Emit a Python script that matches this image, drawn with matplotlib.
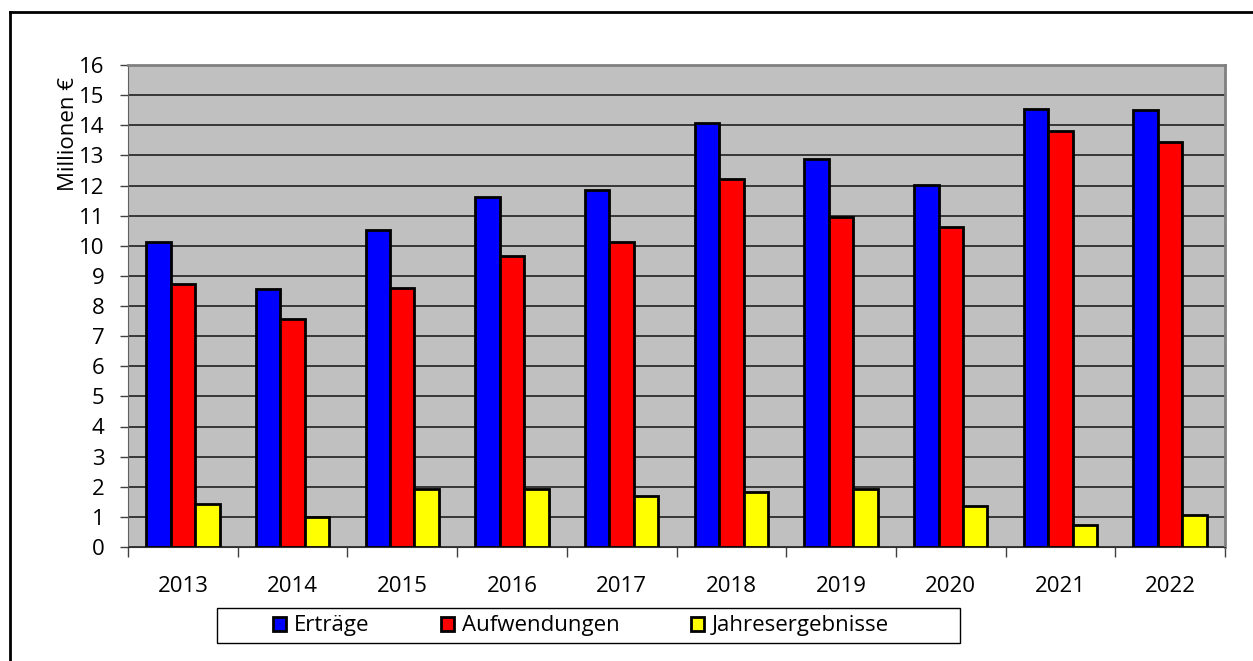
import numpy as np
import matplotlib.pyplot as plt
from matplotlib.patches import Rectangle
from matplotlib.lines import Line2D

plt.rcParams["font.family"] = ["Open Sans", "DejaVu Sans"]
plt.rcParams["font.size"] = 16

years = ["2013", "2014", "2015", "2016", "2017", "2018", "2019", "2020", "2021", "2022"]
ertraege = [10.11, 8.56, 10.53, 11.63, 11.84, 14.06, 12.89, 12.03, 14.55, 14.51]
aufwendungen = [8.72, 7.57, 8.61, 9.67, 10.12, 12.23, 10.97, 10.63, 13.81, 13.45]
jahresergebnisse = [1.43, 1.00, 1.93, 1.93, 1.68, 1.82, 1.93, 1.36, 0.73, 1.05]

series = [
    ("Erträge", ertraege, "#0000FF"),
    ("Aufwendungen", aufwendungen, "#FF0000"),
    ("Jahresergebnisse", jahresergebnisse, "#FFFF00"),
]

W, H = 1253, 661
fig = plt.figure(figsize=(W / 100, H / 100), dpi=100)
ax = fig.add_axes([128 / W, 1 - 547 / H, (1225 - 128) / W, (547 - 65) / H])
ax.set_facecolor("#C0C0C0")

x = np.arange(len(years))
width = 0.223
for k, (name, vals, color) in enumerate(series):
    ax.bar(x + (k - 1) * width, vals, width=width, color=color,
           edgecolor="black", linewidth=2, label=name, zorder=3)

ax.set_xlim(-0.5, len(years) - 0.5)
ax.set_ylim(0, 16)
ax.set_yticks(range(0, 17))
ax.yaxis.grid(True, color="#202020", linewidth=1.2, zorder=1)
ax.set_axisbelow(True)

# ticks at category boundaries, labels centered between them
ax.set_xticks(np.arange(-0.5, len(years), 1.0))
ax.set_xticklabels([])
ax.set_xticks(x, minor=True)
ax.set_xticklabels(years, minor=True)
ax.tick_params(axis="x", which="major", length=7, width=1, color="#404040")
ax.tick_params(axis="x", which="minor", length=0, pad=21)
ax.tick_params(axis="y", length=6, width=1, color="#404040", pad=11)

for side in ["top", "right"]:
    ax.spines[side].set_color("#808080")
    ax.spines[side].set_linewidth(2)
ax.spines["left"].set_color("#606060")
ax.spines["bottom"].set_color("#303030")

ax.set_ylabel("Millionen €", loc="top")
ax.yaxis.set_label_coords(-0.045, 0.975)

handles, labels = ax.get_legend_handles_labels()
fig.legend(handles, labels, loc="center", ncol=3, frameon=False,
           bbox_to_anchor=(581 / W, 1 - 626 / H),
           handlelength=0.6, handleheight=0.6, handletextpad=0.35,
           columnspacing=3.2)
fig.patches.append(Rectangle((217 / W, 1 - 643 / H), (960 - 217) / W, 35 / H,
                             transform=fig.transFigure, fill=False,
                             edgecolor="black", linewidth=1))

# outer frame (top and left edges)
fig.lines.append(Line2D([10 / W, 1], [1 - 12 / H, 1 - 12 / H],
                        transform=fig.transFigure, color="black", linewidth=2))
fig.lines.append(Line2D([10 / W, 10 / W], [0, 1 - 12 / H],
                        transform=fig.transFigure, color="black", linewidth=2))

fig.savefig("out.png", dpi=100)
